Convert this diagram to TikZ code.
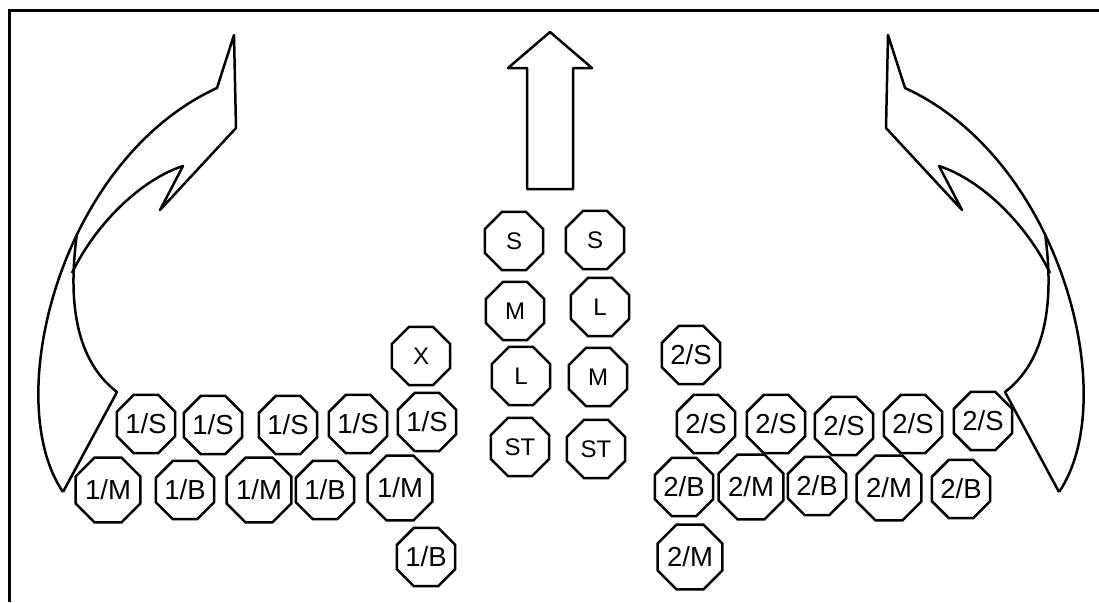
\documentclass[tikz,border=0pt]{standalone}
\usepackage{fontspec}
\setmainfont{Liberation Sans}
\usepackage{tikz}
\usetikzlibrary{shapes.geometric}
\tikzset{
  unit/.style={regular polygon,regular polygon sides=8,draw,line width=2.5pt,
    minimum size=63pt,inner sep=0pt,font=\fontsize{27.5}{29}\selectfont},
  core/.style={unit,font=\fontsize{24}{26}\selectfont},
  outline/.style={line width=2.5pt,line join=round}
}

\begin{document}
\begin{tikzpicture}[x=1pt,y=-1pt]
\useasboundingbox (0,0) rectangle (1099,602);
\draw[line width=3pt] (9,602) -- (9,11) -- (1099,11);
% left side
\node at (146,424)[unit] (A1) {1/S};
\node at (213,425)[unit] (A2) {1/S};
\node at (288,425)[unit] (A3) {1/S};
\node at (358,424)[unit] (A4) {1/S};
\node at (427,422)[unit] (A5) {1/S};
\node at (108,490)[unit] (B1) {1/M};
\node at (185,490)[unit] (B2) {1/B};
\node at (259,490)[unit] (B3) {1/M};
\node at (325,490)[unit] (B4) {1/B};
\node at (400,488)[unit] (B5) {1/M};
\node at (426,557)[unit] (B6) {1/B};
\node at (421,356)[core] (X) {X};
% centre
\node at (514,241)[core] (CS1) {S};
\node at (595,240)[core] (CS2) {S};
\node at (515,311)[core] (CM1) {M};
\node at (600,307)[core] (CL2) {L};
\node at (521,376)[core] (CL1) {L};
\node at (598,377)[core] (CM2) {M};
\node at (520,447)[core] (CT1) {ST};
\node at (596,449)[core] (CT2) {ST};
% right side
\node at (691,355)[unit] (D0) {2/S};
\node at (706,424)[unit] (D1) {2/S};
\node at (776,424)[unit] (D2) {2/S};
\node at (844,426)[unit] (D3) {2/S};
\node at (913,424)[unit] (D4) {2/S};
\node at (983,421)[unit] (D5) {2/S};
\node at (684,487)[unit] (E1) {2/B};
\node at (751,487)[unit] (E2) {2/M};
\node at (817,486)[unit] (E3) {2/B};
\node at (889,488)[unit] (E4) {2/M};
\node at (961,489)[unit] (E5) {2/B};
\node at (690,557)[unit] (E6) {2/M};
% arrows
\draw[outline] (550,32) -- (592,68) -- (573,68) -- (573,189) -- (527,189) -- (527,68) -- (508,68) -- cycle;
\draw[outline] (63,492) .. controls (0,400) and (60,160) .. coordinate[pos=0.6] (lo) (217,88)
  -- (234,35) -- (236,128) -- (160,210) -- (183,166) .. controls (140,180) and (95,225) .. (72,273);
\draw[outline] (lo) .. controls (68,300) and (75,360) .. (117,392) -- (63,492);
\draw[outline] (1059,492) .. controls (1122,400) and (1062,160) .. coordinate[pos=0.6] (ro) (905,88)
  -- (888,35) -- (886,128) -- (962,210) -- (939,166) .. controls (982,180) and (1027,225) .. (1050,273);
\draw[outline] (ro) .. controls (1054,300) and (1047,360) .. (1005,392) -- (1059,492);
\end{tikzpicture}
\end{document}
